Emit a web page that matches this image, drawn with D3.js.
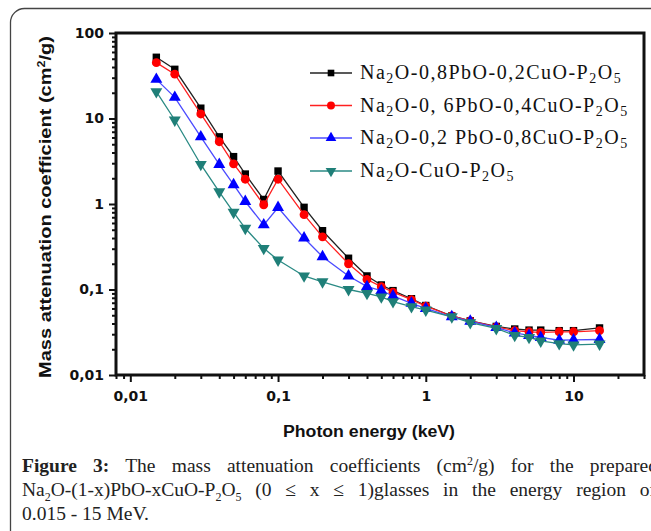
<!DOCTYPE html>
<html lang="en">
	<head>
		<meta charset="utf-8">
		<title>Mass attenuation coefficients</title>
		<script type="text/javascript" src="https://cdnjs.cloudflare.com/ajax/libs/d3/7.8.5/d3.min.js"></script>
		<style type="text/css">
			body { margin: 0; background: #fff; }
			svg { display: block; }
			.tick-lbl { font-family: "DejaVu Sans", sans-serif; font-weight: bold; font-size: 14px; fill: #111; }
			.ax-title { font-family: "Liberation Sans", Arial, sans-serif; font-weight: bold; font-size: 16px; fill: #111; }
			.legend { font-family: "Liberation Serif", "Times New Roman", serif; font-size: 20px; letter-spacing: 1.5px; fill: #111; }
			.caption { font-family: "Liberation Serif", "Times New Roman", serif; font-size: 19.5px; fill: #222; }
		</style>
	</head>
	<body>
		<script type="text/javascript">

			//Photon energies
			var energy = [0.015, 0.02, 0.03, 0.04, 0.05, 0.06, 0.08, 0.1, 0.15, 0.2, 0.3, 0.4, 0.5, 0.6, 0.8, 1,
			              1.5, 2, 3, 4, 5, 6, 8, 10, 15];

			//Mass attenuation coefficients (cm2/g)
			var pb08 = [52, 37.6, 13.2, 6.1, 3.58, 2.24, 1.13, 2.43, 0.914, 0.487, 0.232, 0.144, 0.113, 0.097, 0.078, 0.065,
			            0.049, 0.043, 0.037, 0.0345, 0.0335, 0.0335, 0.033, 0.033, 0.0355];
			var pb06 = [45, 33, 11.3, 5.35, 2.95, 1.95, 0.98, 1.95, 0.75, 0.413, 0.2, 0.131, 0.108, 0.093, 0.076, 0.064,
			            0.049, 0.043, 0.0365, 0.033, 0.032, 0.0315, 0.032, 0.032, 0.033];
			var pb02 = [28.7, 17.7, 6.1, 2.9, 1.68, 1.07, 0.57, 0.91, 0.40, 0.242, 0.144, 0.108, 0.097, 0.084, 0.069, 0.060,
			            0.048, 0.0425, 0.036, 0.031, 0.029, 0.0275, 0.0255, 0.0257, 0.026];
			var pb00 = [20.6, 9.6, 2.9, 1.39, 0.8, 0.52, 0.303, 0.221, 0.144, 0.123, 0.1, 0.09, 0.082, 0.072, 0.063, 0.0575,
			            0.048, 0.041, 0.035, 0.029, 0.0275, 0.025, 0.0233, 0.0225, 0.023];

			var seriesNames = ["Na2O-0,8PbO-0,2CuO-P2O5", "Na2O-0, 6PbO-0,4CuO-P2O5",
			                   "Na2O-0,2 PbO-0,8CuO-P2O5", "Na2O-CuO-P2O5"];

			//Tick labels
			var xTicks = [0.01, 0.1, 1, 10];
			var xTickLabels = ["0,01", "0,1", "1", "10"];
			var yTicks = [0.01, 0.1, 1, 10, 100];
			var yTickLabels = ["0,01", "0,1", "1", "10", "100"];

			var captionLines = [
				"Figure 3: The mass attenuation coefficients (cm2/g) for the prepared",
				"Na2O-(1-x)PbO-xCuO-P2O5 (0 ≤ x ≤ 1)glasses in the energy region of",
				"0.015 - 15 MeV."
			];

			var w = 651, h = 531;
			var pLeft = 116, pRight = 644, pTop = 33, pBottom = 375;

			var svg = d3.select("body").append("svg")
				.attr("width", w)
				.attr("height", h);

			//Outer figure frame
			svg.append("rect")
				.attr("x", 10.5).attr("y", 8.5)
				.attr("width", 700).attr("height", 600)
				.attr("rx", 14)
				.attr("fill", "none")
				.attr("stroke", "#444")
				.attr("stroke-width", 1.3);

			var xScale = d3.scaleLog().domain([0.008, 30]).range([pLeft, pRight]);
			var yScale = d3.scaleLog().domain([0.01, 100]).range([pBottom, pTop]);

			//Minor ticks for log axes
			var xMinor = [];
			[0.001, 0.01, 0.1, 1, 10].forEach(d => { for (var k = 2; k <= 9; k++) xMinor.push(d * k); });
			xMinor = xMinor.filter(v => v >= 0.0079 && v <= 30.1);
			var yMinor = [];
			[0.01, 0.1, 1, 10].forEach(d => { for (var k = 2; k <= 9; k++) yMinor.push(d * k); });

			var xAxisMinor = d3.axisBottom(xScale).tickValues(xMinor).tickSize(4).tickFormat("");
			var xAxis = d3.axisBottom(xScale).tickValues(xTicks).tickSize(7)
				.tickFormat((d, i) => xTickLabels[i]).tickPadding(9);
			var yAxisMinor = d3.axisLeft(yScale).tickValues(yMinor).tickSize(4).tickFormat("");
			var yAxis = d3.axisLeft(yScale).tickValues(yTicks).tickSize(7)
				.tickFormat((d, i) => yTickLabels[i]).tickPadding(5);

			var gx1 = svg.append("g").attr("transform", `translate(0,${pBottom})`).call(xAxisMinor);
			var gx = svg.append("g").attr("transform", `translate(0,${pBottom})`).call(xAxis);
			var gy1 = svg.append("g").attr("transform", `translate(${pLeft},0)`).call(yAxisMinor);
			var gy = svg.append("g").attr("transform", `translate(${pLeft},0)`).call(yAxis);

			[gx1, gx, gy1, gy].forEach(g => {
				g.attr("font-family", null).attr("font-size", null);
				g.select(".domain").remove();
				g.selectAll(".tick line").attr("stroke", "#111").attr("stroke-width", 2);
				g.selectAll(".tick text").attr("class", "tick-lbl");
			});

			//Plot frame
			svg.append("rect")
				.attr("x", pLeft).attr("y", pTop)
				.attr("width", pRight - pLeft).attr("height", pBottom - pTop)
				.attr("fill", "none")
				.attr("stroke", "#111")
				.attr("stroke-width", 3);

			//Axis titles
			svg.append("text")
				.attr("class", "ax-title")
				.attr("x", 369).attr("y", 437)
				.attr("text-anchor", "middle")
				.attr("textLength", 172)
				.attr("lengthAdjust", "spacingAndGlyphs")
				.text("Photon energy (keV)");

			var yt = svg.append("text")
				.attr("class", "ax-title")
				.attr("transform", "translate(51,207) rotate(-90)")
				.attr("text-anchor", "middle")
				.attr("textLength", 342)
				.attr("lengthAdjust", "spacingAndGlyphs");
			yt.append("tspan").text("Mass attenuation coefficient (cm");
			yt.append("tspan").attr("dy", -6).attr("font-size", "10px").text("2");
			yt.append("tspan").attr("dy", 6).text("/g)");

			//Series
			var series = [
				{ name: seriesNames[0], values: pb08, color: "#000000", line: "#222222", symbol: d3.symbolSquare, size: 55, rot: 0 },
				{ name: seriesNames[1], values: pb06, color: "#ff0000", line: "#ff2020", symbol: d3.symbolCircle, size: 62, rot: 0 },
				{ name: seriesNames[2], values: pb02, color: "#0000ff", line: "#4b4bff", symbol: d3.symbolTriangle, size: 62, rot: 0 },
				{ name: seriesNames[3], values: pb00, color: "#1f7f78", line: "#2a8a84", symbol: d3.symbolTriangle, size: 62, rot: 180 }
			];

			var line = d3.line()
				.x((d, i) => xScale(energy[i]))
				.y(d => yScale(d));

			series.forEach(s => {
				var g = svg.append("g");
				g.append("path")
					.datum(s.values)
					.attr("d", line)
					.attr("fill", "none")
					.attr("stroke", s.line)
					.attr("stroke-width", 1.3);
				g.selectAll("path.pt")
					.data(s.values)
					.enter()
					.append("path")
					.attr("class", "pt")
					.attr("d", d3.symbol().type(s.symbol).size(s.size))
					.attr("transform", (d, i) => `translate(${xScale(energy[i])},${yScale(d)}) rotate(${s.rot})`)
					.attr("fill", s.color);
			});

			//Writes a formula with subscripts (digit after a letter)
			function richText(sel, str, subSize, subDy) {
				var parts = str.match(/[A-Za-z]\d|[^]/g);
				var buf = "", back = 0;
				function flush() {
					if (!buf) return;
					var ts = sel.append("tspan").text(buf);
					if (back) ts.attr("dy", -back);
					back = 0;
					buf = "";
				}
				parts.forEach(p => {
					if (p.length === 2) {
						buf += p[0];
						flush();
						sel.append("tspan").attr("font-size", subSize).attr("dy", subDy).text(p[1]);
						back = subDy;
					} else {
						buf += p;
					}
				});
				flush();
			}

			//Legend
			var legY = [73, 105.5, 138, 171];
			series.forEach((s, i) => {
				var g = svg.append("g").attr("transform", `translate(310,${legY[i]})`);
				g.append("line")
					.attr("x1", 0).attr("x2", 42)
					.attr("stroke", s.line)
					.attr("stroke-width", 1.5);
				g.append("path")
					.attr("d", d3.symbol().type(s.symbol).size(s.size * 0.8))
					.attr("transform", `translate(21,0) rotate(${s.rot})`)
					.attr("fill", s.color);
				var t = g.append("text")
					.attr("class", "legend")
					.attr("x", 50).attr("y", 6);
				richText(t, s.name, "14px", 4);
			});

			//Caption
			var capY = [472, 496, 520];
			var capWidth = [636, 634, 0];
			captionLines.forEach((str, i) => {
				var t = svg.append("text")
					.attr("class", "caption")
					.attr("x", 22).attr("y", capY[i]);
				if (i === 0) {
					t.append("tspan").attr("font-weight", "bold").text("Figure 3:");
					var rest = str.replace("Figure 3:", "").split("cm2");
					t.append("tspan").text(rest[0] + "cm");
					t.append("tspan").attr("font-size", "12px").attr("dy", -7).text("2");
					t.append("tspan").attr("dy", 7).text(rest[1]);
				} else if (i === 1) {
					richText(t, str, "12px", 5);
				} else {
					t.text(str);
				}
				if (capWidth[i]) {
					var natural = t.node().getComputedTextLength();
					var spaces = (str.match(/ /g) || []).length;
					t.attr("word-spacing", (capWidth[i] - natural) / spaces);
				}
			});

		</script>
	</body>
</html>
